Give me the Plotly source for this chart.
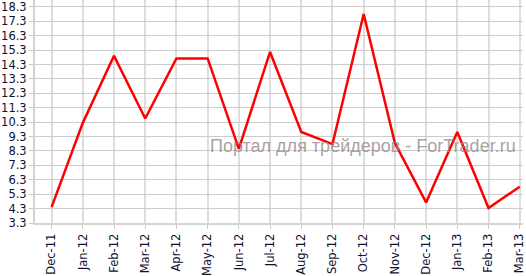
import plotly.graph_objects as go

months = ["Dec-11", "Jan-12", "Feb-12", "Mar-12", "Apr-12", "May-12", "Jun-12", "Jul-12",
          "Aug-12", "Sep-12", "Oct-12", "Nov-12", "Dec-12", "Jan-13", "Feb-13", "Mar-13"]
values = [4.4, 10.25, 14.9, 10.55, 14.72, 14.72, 8.45, 15.17,
          9.62, 8.77, 17.8, 8.85, 4.73, 9.61, 4.34, 5.82]
y_ticks = [3.3, 4.3, 5.3, 6.3, 7.3, 8.3, 9.3, 10.3, 11.3, 12.3, 13.3, 14.3, 15.3, 16.3, 17.3, 18.3]
watermark = "Портал для трейдеров - ForTrader.ru"

xi = list(range(len(months)))

fig = go.Figure()
fig.add_trace(go.Scatter(x=xi, y=values, mode="lines",
                         line=dict(color="#ff0000", width=2.5), hoverinfo="skip"))

fig.update_layout(
    width=526, height=276,
    margin=dict(l=35, r=0, t=0, b=38),
    paper_bgcolor="white", plot_bgcolor="white",
    showlegend=False,
    font=dict(family="DejaVu Sans, Verdana, sans-serif", size=11.5, color="#111133"),
)
fig.update_xaxes(
    range=[-0.532, 15.105],
    tickmode="array", tickvals=xi, ticktext=months, tickangle=-90,
    showgrid=True, gridcolor="#dedede", gridwidth=2,
    showline=True, linecolor="#d4d4d4", linewidth=2,
    ticks="outside", ticklen=4, tickcolor="#c8c8c8", tickwidth=1,
    zeroline=False, tickfont=dict(size=11.5, color="#111133"),
    ticklabeloverflow="allow",
)
fig.update_yaxes(
    range=[3.3, 18.775],
    tickmode="array", tickvals=y_ticks, ticktext=[f"{v:.1f}" for v in y_ticks],
    showgrid=True, gridcolor="#cccccc", gridwidth=1,
    showline=True, linecolor="#d4d4d4", linewidth=2,
    ticks="outside", ticklen=4, tickcolor="#c8c8c8", tickwidth=1,
    zeroline=False, tickfont=dict(size=11.5, color="#111133"),
    ticklabeloverflow="allow",
)
fig.add_annotation(
    text=watermark, xref="paper", yref="paper", x=0.673, y=0.344,
    xanchor="center", yanchor="middle", showarrow=False,
    font=dict(family="Liberation Sans, Arial, sans-serif", size=18, color="rgba(150,135,135,0.8)"),
)

fig.write_html("out.html")
